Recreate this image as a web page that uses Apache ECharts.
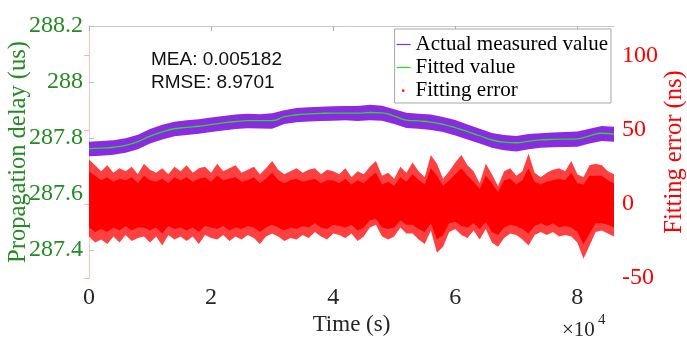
<!DOCTYPE html>
<html>
<head>
<meta charset="utf-8">
<script src="https://cdn.jsdelivr.net/npm/echarts@6/dist/echarts.min.js"></script>
<style>html,body{margin:0;padding:0;background:#fff}#c{width:687px;height:346px}</style>
</head>
<body>
<div id="c"></div>
<script>
// ---- data ----
const xTicks = [0, 20000, 40000, 60000, 80000];
const leftTicks = [287.4, 287.6, 287.8, 288, 288.2];
const rightTicks = [-50, 0, 50, 100];

// measured / fitted, sampled every 2000 s
const fitTime = [0,2000,4000,6000,8000,10000,12000,14000,16000,18000,20000,22000,24000,26000,28000,30000,32000,34000,36000,38000,40000,42000,44000,46000,48000,50000,52000,54000,56000,58000,60000,62000,64000,66000,68000,70000,72000,74000,76000,78000,80000,82000,84000,86000];
const fitted = [287.762,287.764,287.767,287.774,287.787,287.807,287.822,287.833,287.838,287.842,287.848,287.854,287.859,287.862,287.862,287.862,287.876,287.883,287.886,287.888,287.889,287.889,287.889,287.891,287.890,287.878,287.864,287.861,287.857,287.849,287.837,287.823,287.808,287.793,287.785,287.783,287.788,287.793,287.795,287.796,287.797,287.808,287.817,287.814];
const measuredHi = [287.787,287.789,287.792,287.799,287.812,287.832,287.847,287.858,287.863,287.867,287.873,287.879,287.884,287.887,287.885,287.888,287.899,287.907,287.910,287.912,287.913,287.914,287.914,287.919,287.915,287.903,287.890,287.887,287.884,287.875,287.864,287.848,287.833,287.818,287.811,287.807,287.814,287.817,287.820,287.821,287.823,287.833,287.843,287.840];
const measuredLo = [287.735,287.737,287.740,287.747,287.760,287.780,287.795,287.806,287.811,287.815,287.821,287.827,287.832,287.835,287.834,287.833,287.850,287.856,287.859,287.861,287.862,287.863,287.861,287.863,287.862,287.850,287.836,287.833,287.829,287.821,287.809,287.795,287.780,287.765,287.756,287.752,287.760,287.765,287.767,287.768,287.769,287.780,287.789,287.787];

// fitting error envelope (ns), sampled every 1000 s from 0 to 86000
const errStep = 1000;
const errHi = [30,26,22,26,21,24,22,25,20,27, 23,21,24,20,25,22,26,21,24,25, 21,27,22,24,26,21,23,25,20,24, 29,23,20,22,24,21,23,24,20,23, 22,20,24,18,22,20,25,29,19,21, 17,25,21,28,22,18,33,27,17,22, 28,33,26,22,14,27,20,12,22,24, 19,22,34,21,18,21,23,24,22,29, 20,18,26,27,26,22,20];
const errLo = [-22,-26,-24,-27,-22,-26,-21,-25,-23,-22, -26,-22,-28,-21,-24,-22,-25,-22,-27,-21, -23,-24,-21,-25,-22,-24,-21,-23,-27,-22, -20,-22,-25,-23,-24,-21,-23,-19,-22,-24, -20,-21,-23,-20,-25,-22,-16,-14,-22,-24, -22,-16,-20,-20,-24,-27,-18,-33,-29,-19, -17,-21,-23,-18,-24,-17,-26,-29,-23,-20, -21,-24,-28,-21,-19,-21,-19,-22,-21,-22, -26,-37,-28,-19,-18,-20,-22];
const errCoreHi = [22,19,16,18,15,17,16,18,14,19, 16,15,17,14,18,16,18,15,17,18, 15,19,16,17,18,15,16,18,14,17, 21,16,14,16,17,15,16,17,14,16, 16,14,17,13,16,14,18,21,13,15, 12,18,15,20,16,13,24,19,12,16, 20,24,19,15,10,19,14,8,16,17, 13,16,24,15,13,15,16,17,16,21, 14,13,19,19,19,16,14];
const errCoreLo = [-16,-19,-17,-19,-16,-18,-15,-18,-16,-16, -18,-16,-20,-15,-17,-16,-18,-16,-19,-15, -16,-17,-15,-18,-16,-17,-15,-16,-19,-16, -14,-16,-18,-16,-17,-15,-16,-13,-16,-17, -14,-15,-16,-14,-18,-16,-11,-10,-16,-17, -16,-11,-14,-14,-17,-19,-13,-24,-21,-13, -12,-15,-16,-13,-17,-12,-19,-21,-16,-14, -15,-17,-20,-15,-13,-15,-13,-16,-15,-16, -19,-27,-20,-13,-13,-14,-16];

const names = ['Actual measured value', 'Fitted value', 'Fitting error'];
const statLines = ['MEA: 0.005182', 'RMSE: 8.9701'];

// ---- build series ----
const errTime = errHi.map((_, i) => i * errStep);

const SERIF = 'Liberation Serif';
const GREEN = '#228B22', RED = '#ff0000', PURPLE = '#8a2be2', FIT = '#22e022';

function band(name, xs, hi, lo, yIdx, color, opacity) {
  return {
    name, type: 'custom', coordinateSystem: 'cartesian2d', xAxisIndex: 0, yAxisIndex: yIdx,
    data: [[xs[0], lo[0]]], clip: true, silent: true, animation: false,
    itemStyle: { color },
    renderItem: function (params, api) {
      const pts = [];
      for (let i = 0; i < xs.length; i++) pts.push(api.coord([xs[i], hi[i]]));
      for (let i = xs.length - 1; i >= 0; i--) pts.push(api.coord([xs[i], lo[i]]));
      return { type: 'polygon', shape: { points: pts }, style: { fill: color, opacity: opacity } };
    }
  };
}

const line = 'path://M0,0M14,20M0,9.4H14V10.6H0Z';
const dot = 'path://M0,0M14,20M5.5,9H7.8V11.3H5.5Z';

const option = {
  animation: false,
  backgroundColor: '#fff',
  grid: { left: 89, right: 73, top: 26, bottom: 68, outerBoundsMode: 'none', containLabel: false },
  xAxis: [{
    type: 'value', position: 'bottom', min: 0, max: 86000,
    axisLine: { show: true, lineStyle: { color: '#c8c8c8', width: 1 } },
    axisTick: { show: true, inside: true, length: 5, lineStyle: { color: '#b0b0b0' }, customValues: xTicks },
    axisLabel: { customValues: xTicks, formatter: v => String(v / 10000), color: '#262626', fontFamily: SERIF, fontSize: 24, margin: 8 },
    splitLine: { show: false },
    name: 'Time (s)', nameLocation: 'middle', nameGap: 35, nameMoveOverlap: false,
    nameTextStyle: { color: '#262626', fontFamily: SERIF, fontSize: 23 }
  }, {
    type: 'value', position: 'top', min: 0, max: 86000,
    axisLine: { show: true, lineStyle: { color: '#c8c8c8', width: 1 } },
    axisTick: { show: true, inside: true, length: 5, lineStyle: { color: '#b0b0b0' }, customValues: xTicks },
    axisLabel: { show: false }, splitLine: { show: false }
  }],
  yAxis: [{
    type: 'value', position: 'left', min: 287.3, max: 288.2,
    axisLine: { show: true, lineStyle: { color: '#b5dcb5', width: 1 } },
    axisTick: { show: true, inside: true, length: 5, lineStyle: { color: '#9fd09f' }, customValues: leftTicks },
    axisLabel: { customValues: leftTicks, formatter: v => String(+(+v).toFixed(1)), color: GREEN, fontFamily: SERIF, fontSize: 24, margin: 6 },
    splitLine: { show: false },
    name: 'Propagation delay (us)', nameLocation: 'middle', nameGap: 58, nameRotate: 90, nameMoveOverlap: false,
    nameTextStyle: { color: GREEN, fontFamily: SERIF, fontSize: 24.5, lineHeight: 25 }
  }, {
    type: 'value', position: 'right', min: -50, max: 120,
    axisLine: { show: true, lineStyle: { color: '#ffc0c0', width: 1 } },
    axisTick: { show: true, inside: true, length: 5, lineStyle: { color: '#ffb0b0' }, customValues: rightTicks },
    axisLabel: { customValues: rightTicks, color: RED, fontFamily: SERIF, fontSize: 24, margin: 8 },
    splitLine: { show: false },
    name: 'Fitting error (ns)', nameLocation: 'middle', nameGap: 48, nameRotate: 90, nameMoveOverlap: false,
    nameTextStyle: { color: RED, fontFamily: SERIF, fontSize: 24.5, lineHeight: 25 }
  }],
  legend: {
    orient: 'vertical', right: 76, top: 29,
    backgroundColor: '#fff', borderColor: '#a8a8a8', borderWidth: 1,
    padding: [5, 3, 2, 2], itemGap: 2, itemWidth: 14, itemHeight: 20,
    textStyle: { fontFamily: SERIF, fontSize: 21, color: '#000' },
    selectedMode: false,
    data: [
      { name: names[0], icon: line, itemStyle: { color: PURPLE } },
      { name: names[1], icon: line, itemStyle: { color: FIT } },
      { name: names[2], icon: dot, itemStyle: { color: RED } }
    ]
  },
  graphic: [
    { type: 'text', left: 151, top: 50, style: { text: statLines[0], fontFamily: 'Liberation Sans', fontSize: 19, fill: '#111' } },
    { type: 'text', left: 151, top: 73, style: { text: statLines[1], fontFamily: 'Liberation Sans', fontSize: 19, fill: '#111' } },
    { type: 'text', left: 562, top: 320, style: { text: '\u00d710', fontFamily: SERIF, fontSize: 21, fill: '#262626' } },
    { type: 'text', left: 598, top: 313, style: { text: '4', fontFamily: SERIF, fontSize: 15, fill: '#262626' } }
  ],
  series: [
    band('errOuter', errTime, errHi, errLo, 1, RED, 0.75),
    band(names[2], errTime, errCoreHi, errCoreLo, 1, RED, 1),
    band(names[0], fitTime, measuredHi, measuredLo, 0, PURPLE, 1),
    {
      name: names[1], type: 'line', yAxisIndex: 0, data: fitTime.map((x, i) => [x, fitted[i]]),
      showSymbol: false, symbol: 'none', smooth: true, color: FIT, itemStyle: { color: FIT },
      lineStyle: { color: FIT, width: 1.3 }, animation: false
    }
  ]
};
echarts.init(document.getElementById('c'), null, { renderer: 'canvas' }).setOption(option);
</script>
</body>
</html>
